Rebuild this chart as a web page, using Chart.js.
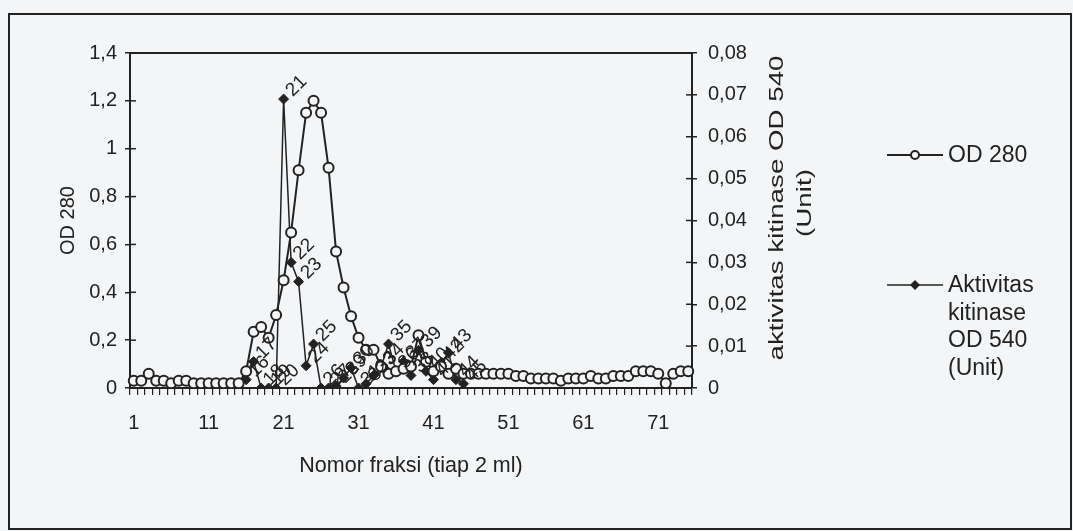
<!DOCTYPE html>
<html>
<head>
<meta charset="utf-8">
<script src="https://cdn.jsdelivr.net/npm/chart.js@4.4.1/dist/chart.umd.min.js"></script>
<style>
    html, body { margin: 0; padding: 0; background: #f3f5f7; }
    #wrap { width: 1073px; height: 531px; position: relative; }
</style>
</head>
<body>
<div id="wrap"><canvas id="fraksiChart"></canvas></div>
<script>
// fraction numbers 1..75
const fractions = [];
for (let i = 1; i <= 75; i++) fractions.push(String(i));

// OD 280 (left axis)
const od280 = [
    0.03, 0.03, 0.06, 0.03, 0.03, 0.02, 0.03, 0.03, 0.02, 0.02,
    0.02, 0.02, 0.02, 0.02, 0.02, 0.07, 0.235, 0.255, 0.21, 0.305,
    0.45, 0.65, 0.91, 1.15, 1.20, 1.15, 0.92, 0.57, 0.42, 0.30,
    0.21, 0.16, 0.16, 0.09, 0.06, 0.07, 0.08, 0.09, 0.22, 0.11,
    0.07, 0.09, 0.06, 0.08, 0.06, 0.06, 0.06, 0.06, 0.06, 0.06,
    0.06, 0.05, 0.05, 0.04, 0.04, 0.04, 0.04, 0.03, 0.04, 0.04,
    0.04, 0.05, 0.04, 0.04, 0.05, 0.05, 0.05, 0.07, 0.07, 0.07,
    0.06, 0.02, 0.06, 0.07, 0.07
];

// Aktivitas kitinase OD 540 (right axis), measured for fractions 16..45
const aktivitas = [
    null, null, null, null, null, null, null, null, null, null,
    null, null, null, null, null, 0.002, 0.0063, 0.0, 0.0, 0.0,
    0.069, 0.030, 0.0254, 0.0053, 0.0105, 0.0, 0.0, 0.0005, 0.0024, 0.0048,
    0.0, 0.001, 0.003, 0.005, 0.0105, 0.004, 0.0063, 0.003, 0.009, 0.004,
    0.002, 0.006, 0.0084, 0.002, 0.001, null, null, null, null, null,
    null, null, null, null, null, null, null, null, null, null,
    null, null, null, null, null, null, null, null, null, null,
    null, null, null, null, null
];

const leftTicks = [0, 0.2, 0.4, 0.6, 0.8, 1, 1.2, 1.4];
const rightTicks = [0, 0.01, 0.02, 0.03, 0.04, 0.05, 0.06, 0.07, 0.08];

const ink = '#222222';
const paper = '#f3f5f7';
const fontFamily = "'Liberation Sans', Arial, sans-serif";

function commaNum(v) {
    return String(Math.round(v * 100) / 100).replace('.', ',');
}

const decorPlugin = {
    id: 'decor',
    beforeDraw(chart) {
        const c = chart.ctx;
        c.save();
        c.fillStyle = paper;
        c.fillRect(0, 0, chart.width, chart.height);
        c.strokeStyle = ink;
        c.lineWidth = 2;
        c.strokeRect(9, 14, 1062, 515);
        c.restore();
    },
    afterDraw(chart) {
        const c = chart.ctx;
        const a = chart.chartArea;
        const y = chart.scales.y;
        const y2 = chart.scales.y2;
        c.save();
        c.strokeStyle = ink;
        c.lineWidth = 2;
        c.beginPath();
        c.moveTo(a.left, a.top);
        c.lineTo(a.right, a.top);
        c.stroke();
        // inner halves of the cross ticks
        c.lineWidth = 1.5;
        leftTicks.forEach(function(v) {
            const py = y.getPixelForValue(v);
            c.beginPath();
            c.moveTo(a.left, py);
            c.lineTo(a.left + 6, py);
            c.stroke();
        });
        rightTicks.forEach(function(v) {
            const py = y2.getPixelForValue(v);
            c.beginPath();
            c.moveTo(a.right - 6, py);
            c.lineTo(a.right, py);
            c.stroke();
        });

        // right axis title, two rotated lines
        c.fillStyle = ink;
        c.textAlign = 'center';
        c.textBaseline = 'middle';
        c.font = '21px ' + fontFamily;
        c.save();
        c.translate(777, 208);
        c.rotate(-Math.PI / 2);
        c.scale(1.32, 1);
        c.fillText('aktivitas kitinase OD 540', 0, 0);
        c.restore();
        c.save();
        c.translate(805, 203);
        c.rotate(-Math.PI / 2);
        c.scale(1.32, 1);
        c.fillText('(Unit)', 0, 0);
        c.restore();

        // data labels on the activity points
        const meta = chart.getDatasetMeta(1);
        c.font = '19px ' + fontFamily;
        meta.data.forEach(function(pt, i) {
            if (aktivitas[i] === null) return;
            c.save();
            c.translate(pt.x + 13, pt.y - 13);
            c.rotate(-Math.PI / 4);
            c.fillText(fractions[i], 0, 0);
            c.restore();
        });

        // legend
        c.font = '23px ' + fontFamily;
        c.textAlign = 'left';
        c.lineWidth = 2;
        c.beginPath();
        c.moveTo(887, 155);
        c.lineTo(943, 155);
        c.stroke();
        c.beginPath();
        c.arc(915, 155, 4, 0, Math.PI * 2);
        c.fillStyle = paper;
        c.fill();
        c.stroke();
        c.fillStyle = ink;
        c.fillText('OD 280', 948, 156);

        c.lineWidth = 1.5;
        c.beginPath();
        c.moveTo(887, 285);
        c.lineTo(943, 285);
        c.stroke();
        c.beginPath();
        c.moveTo(915, 280);
        c.lineTo(920, 285);
        c.lineTo(915, 290);
        c.lineTo(910, 285);
        c.closePath();
        c.fill();
        ['Aktivitas', 'kitinase', 'OD 540', '(Unit)'].forEach(function(t, k) {
            c.fillText(t, 948, 286 + k * 27.5);
        });
        c.restore();
    }
};

new Chart(document.getElementById('fraksiChart'), {
    type: 'line',
    data: {
        labels: fractions,
        datasets: [{
            label: 'OD 280',
            data: od280,
            yAxisID: 'y',
            borderColor: ink,
            borderWidth: 2,
            pointStyle: 'circle',
            pointRadius: 5,
            pointBorderWidth: 2,
            pointBorderColor: ink,
            pointBackgroundColor: paper,
            tension: 0
        }, {
            label: 'Aktivitas kitinase OD 540 (Unit)',
            data: aktivitas,
            yAxisID: 'y2',
            borderColor: ink,
            borderWidth: 1.5,
            pointStyle: 'rectRot',
            pointRadius: 5,
            pointBorderWidth: 1,
            pointBorderColor: ink,
            pointBackgroundColor: ink,
            spanGaps: false,
            tension: 0
        }]
    },
    options: {
        responsive: true,
        maintainAspectRatio: false,
        animation: false,
        layout: { padding: { left: 0, top: 53, right: 231, bottom: 0 } },
        plugins: {
            legend: { display: false },
            tooltip: { enabled: false }
        },
        scales: {
            x: {
                type: 'category',
                offset: true,
                afterFit: function(s) { s.height = 143; },
                grid: { offset: true, drawOnChartArea: false, tickLength: 7, color: ink, lineWidth: 1.2 },
                border: { color: ink, width: 2 },
                ticks: {
                    autoSkip: false,
                    maxRotation: 0,
                    padding: 16,
                    color: ink,
                    font: { family: fontFamily, size: 20 },
                    callback: function(v, i) { return i % 10 === 0 ? fractions[i] : ''; }
                },
                title: {
                    display: true,
                    text: 'Nomor fraksi (tiap 2 ml)',
                    color: ink,
                    font: { family: fontFamily, size: 21.5 },
                    padding: { top: 0, bottom: 52 }
                }
            },
            y: {
                position: 'left',
                min: 0,
                max: 1.4,
                afterFit: function(s) { s.width = 130; },
                afterBuildTicks: function(s) { s.ticks = leftTicks.map(function(v) { return { value: v }; }); },
                grid: { drawOnChartArea: false, tickLength: 5, color: ink, lineWidth: 1.5 },
                border: { color: ink, width: 2 },
                ticks: {
                    padding: 8,
                    color: ink,
                    font: { family: fontFamily, size: 20 },
                    callback: function(v) { return commaNum(v); }
                },
                title: {
                    display: true,
                    text: 'OD 280',
                    color: ink,
                    font: { family: fontFamily, size: 20 },
                    padding: { top: 56, bottom: 0 }
                }
            },
            y2: {
                position: 'right',
                min: 0,
                max: 0.08,
                afterFit: function(s) { s.width = 150; },
                afterBuildTicks: function(s) { s.ticks = rightTicks.map(function(v) { return { value: v }; }); },
                grid: { drawOnChartArea: false, tickLength: 5, color: ink, lineWidth: 1.5 },
                border: { color: ink, width: 2 },
                ticks: {
                    padding: 11,
                    color: ink,
                    font: { family: fontFamily, size: 20 },
                    callback: function(v) { return commaNum(v); }
                }
            }
        }
    },
    plugins: [decorPlugin]
});
</script>
</body>
</html>
